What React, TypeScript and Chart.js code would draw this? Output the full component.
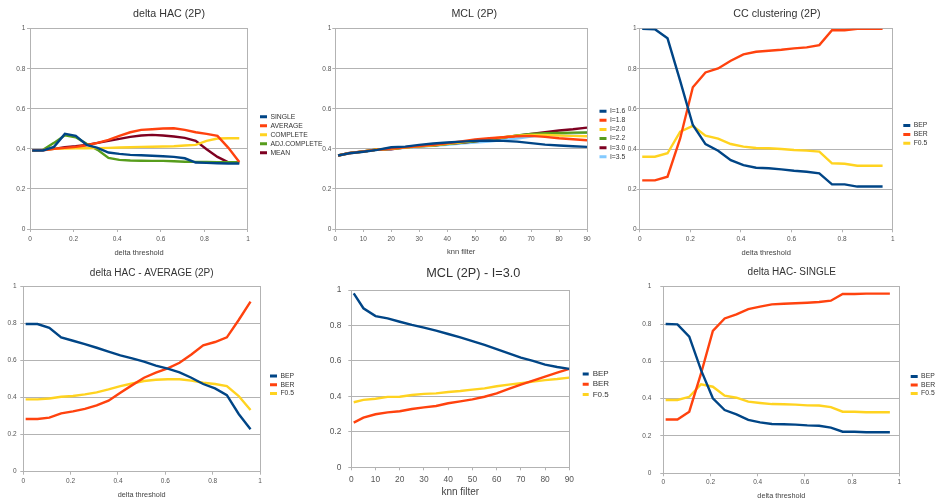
import React, { useEffect, useRef } from "react";
import { Chart, registerables } from "chart.js";

Chart.register(...registerables);

// ---------------- data ----------------
const deltaThresholds = [0.01, 0.06, 0.11, 0.16, 0.21, 0.26, 0.31, 0.36, 0.41, 0.46, 0.51, 0.56, 0.61, 0.66, 0.71, 0.76, 0.81, 0.86, 0.91, 0.96];
const knnFilters = [1, 5, 10, 15, 20, 25, 30, 35, 40, 45, 50, 55, 60, 65, 70, 75, 80, 85, 90];

// delta HAC (2P) - F0.5 per linkage
const hacSingle = [0.392, 0.392, 0.41, 0.475, 0.465, 0.42, 0.405, 0.382, 0.375, 0.37, 0.368, 0.366, 0.363, 0.36, 0.353, 0.332, 0.33, 0.328, 0.327, 0.327];
const hacAverage = [0.393, 0.393, 0.4, 0.405, 0.41, 0.418, 0.43, 0.445, 0.465, 0.483, 0.495, 0.498, 0.502, 0.503, 0.495, 0.483, 0.475, 0.465, 0.405, 0.335];
const hacComplete = [0.393, 0.395, 0.4, 0.402, 0.403, 0.403, 0.404, 0.405, 0.407, 0.408, 0.41, 0.411, 0.412, 0.413, 0.417, 0.42, 0.44, 0.452, 0.453, 0.453];
const hacAdjComplete = [0.393, 0.395, 0.43, 0.468, 0.458, 0.425, 0.395, 0.355, 0.345, 0.342, 0.341, 0.34, 0.34, 0.338, 0.336, 0.335, 0.335, 0.334, 0.334, 0.334];
const hacMean = [0.393, 0.395, 0.4, 0.408, 0.413, 0.42, 0.43, 0.44, 0.45, 0.46, 0.467, 0.47, 0.467, 0.462, 0.455, 0.44, 0.398, 0.36, 0.333, 0.332];

// MCL (2P) - F0.5 per inflation
const mclI16 = [0.367, 0.378, 0.386, 0.395, 0.408, 0.411, 0.42, 0.427, 0.432, 0.436, 0.44, 0.442, 0.44, 0.436, 0.429, 0.421, 0.417, 0.413, 0.41];
const mclI18 = [0.367, 0.378, 0.387, 0.396, 0.402, 0.408, 0.414, 0.42, 0.428, 0.437, 0.447, 0.453, 0.458, 0.463, 0.465, 0.46, 0.453, 0.448, 0.443];
const mclI20 = [0.367, 0.379, 0.387, 0.397, 0.401, 0.407, 0.413, 0.418, 0.425, 0.433, 0.441, 0.449, 0.458, 0.466, 0.47, 0.47, 0.467, 0.465, 0.463];
const mclI22 = [0.367, 0.379, 0.387, 0.397, 0.4, 0.407, 0.413, 0.417, 0.424, 0.431, 0.438, 0.446, 0.456, 0.467, 0.475, 0.478, 0.479, 0.481, 0.482];
const mclI35 = [0.367, 0.378, 0.386, 0.395, 0.399, 0.405, 0.41, 0.415, 0.42, 0.426, 0.432, 0.437, 0.444, 0.452, 0.461, 0.468, 0.474, 0.478, 0.481];

// CC clustering (2P)
const ccBEP = [1.0, 0.997, 0.952, 0.74, 0.52, 0.425, 0.392, 0.345, 0.32, 0.307, 0.304, 0.299, 0.292, 0.287, 0.279, 0.224, 0.224, 0.213, 0.213, 0.213];
const ccBER = [0.244, 0.244, 0.262, 0.453, 0.708, 0.782, 0.802, 0.84, 0.872, 0.885, 0.89, 0.895, 0.902, 0.907, 0.918, 0.992, 0.992, 1.0, 1.0, 1.0];
const ccF05 = [0.362, 0.362, 0.379, 0.487, 0.515, 0.467, 0.452, 0.425, 0.412, 0.405, 0.404, 0.4, 0.395, 0.392, 0.387, 0.329, 0.327, 0.317, 0.317, 0.317];

// delta HAC - AVERAGE (2P)
const avgBEP = [0.798, 0.798, 0.778, 0.726, 0.708, 0.69, 0.67, 0.649, 0.629, 0.613, 0.595, 0.573, 0.557, 0.537, 0.508, 0.474, 0.45, 0.414, 0.312, 0.229];
const avgBER = [0.285, 0.285, 0.292, 0.315, 0.326, 0.34, 0.358, 0.384, 0.427, 0.468, 0.508, 0.535, 0.559, 0.589, 0.634, 0.683, 0.701, 0.726, 0.82, 0.919];
const avgF05 = [0.391, 0.391, 0.396, 0.405, 0.409, 0.418, 0.429, 0.445, 0.463, 0.477, 0.49, 0.497, 0.5, 0.5, 0.492, 0.481, 0.474, 0.463, 0.409, 0.333];

// MCL (2P) - I=3.0
const mclBEP = [0.981, 0.897, 0.853, 0.84, 0.821, 0.803, 0.788, 0.771, 0.752, 0.733, 0.712, 0.69, 0.667, 0.643, 0.618, 0.6, 0.579, 0.566, 0.555];
const mclBER = [0.252, 0.28, 0.299, 0.31, 0.316, 0.329, 0.338, 0.346, 0.361, 0.372, 0.383, 0.398, 0.417, 0.442, 0.466, 0.489, 0.511, 0.534, 0.555];
const mclF05 = [0.367, 0.38, 0.387, 0.397, 0.398, 0.408, 0.414, 0.417, 0.425, 0.43, 0.438, 0.445, 0.457, 0.466, 0.474, 0.483, 0.492, 0.498, 0.506];

// delta HAC- SINGLE
const sglBEP = [0.8, 0.798, 0.732, 0.553, 0.402, 0.339, 0.316, 0.286, 0.273, 0.264, 0.263, 0.261, 0.257, 0.255, 0.245, 0.223, 0.223, 0.22, 0.22, 0.22];
const sglBER = [0.288, 0.288, 0.33, 0.535, 0.763, 0.83, 0.852, 0.88, 0.893, 0.905, 0.909, 0.911, 0.914, 0.918, 0.925, 0.961, 0.961, 0.963, 0.963, 0.963];
const sglF05 = [0.393, 0.393, 0.41, 0.477, 0.464, 0.416, 0.405, 0.384, 0.377, 0.371, 0.37, 0.368, 0.364, 0.363, 0.355, 0.33, 0.33, 0.327, 0.327, 0.327];

// ---------------- styles ----------------
const FONT = '"Liberation Sans", Arial, sans-serif';
const BLUE = "#004586";
const ORANGE = "#ff420e";
const YELLOW = "#ffd320";
const GREEN = "#579d1c";
const MAROON = "#7e0021";
const LIGHTBLUE = "#83caff";
const GRID = "#b3b3b3";
const TICK = "#555555";
const TEXT = "#333333";

type Series = { label: string; color: string; data: number[] };
type Panel = {
  title: string; titleSize: number; titleX: number; titleY: number; top: number;
  plot: { l: number; t: number; r: number; b: number };
  xTitle: string; xTitleSize: number; xTitleY: number;
  xs: number[]; xMax: number; xStep: number;
  tickSize: number; yTickPad: number; xTickPad: number;
  legendX: number; legendY: number; legendFont: number; legendSpacing: number; boxW: number;
  series: Series[];
};

const PANELS: Panel[] = [
  {
    title: "delta HAC (2P)", titleSize: 10.7, titleX: 169, titleY: 13.7, top: 0,
    plot: { l: 30, t: 28.7, r: 248, b: 229 },
    xTitle: "delta threshold", xTitleSize: 7.5, xTitleY: 253,
    xs: deltaThresholds, xMax: 1, xStep: 0.2,
    tickSize: 6.5, yTickPad: 1.7, xTickPad: 3.4,
    legendX: 260, legendY: 134.7, legendFont: 6.8, legendSpacing: 9, boxW: 7,
    series: [
      { label: "SINGLE", color: BLUE, data: hacSingle },
      { label: "AVERAGE", color: ORANGE, data: hacAverage },
      { label: "COMPLETE", color: YELLOW, data: hacComplete },
      { label: "ADJ.COMPLETE", color: GREEN, data: hacAdjComplete },
      { label: "MEAN", color: MAROON, data: hacMean },
    ],
  },
  {
    title: "MCL (2P)", titleSize: 10.7, titleX: 474.3, titleY: 14, top: 0,
    plot: { l: 335.3, t: 28.7, r: 587, b: 229 },
    xTitle: "knn filter", xTitleSize: 7.5, xTitleY: 252,
    xs: knnFilters, xMax: 90, xStep: 10,
    tickSize: 6.5, yTickPad: 1, xTickPad: 3.4,
    legendX: 599.5, legendY: 134, legendFont: 6.8, legendSpacing: 9.1, boxW: 7,
    series: [
      { label: "I=1.6", color: BLUE, data: mclI16 },
      { label: "I=1.8", color: ORANGE, data: mclI18 },
      { label: "I=2.0", color: YELLOW, data: mclI20 },
      { label: "I=2.2", color: GREEN, data: mclI22 },
      { label: "I=3.0", color: MAROON, data: mclF05 },
      { label: "I=3.5", color: LIGHTBLUE, data: mclI35 },
    ],
  },
  {
    title: "CC clustering (2P)", titleSize: 10.7, titleX: 777, titleY: 13.7, top: 0,
    plot: { l: 639.7, t: 28.7, r: 892.7, b: 229.3 },
    xTitle: "delta threshold", xTitleSize: 7.5, xTitleY: 253,
    xs: deltaThresholds, xMax: 1, xStep: 0.2,
    tickSize: 6.5, yTickPad: 0, xTickPad: 3.4,
    legendX: 903.3, legendY: 134.4, legendFont: 6.8, legendSpacing: 8.8, boxW: 7,
    series: [
      { label: "BEP", color: BLUE, data: ccBEP },
      { label: "BER", color: ORANGE, data: ccBER },
      { label: "F0.5", color: YELLOW, data: ccF05 },
    ],
  },
  {
    title: "delta HAC - AVERAGE (2P)", titleSize: 10, titleX: 151.7, titleY: 273.3, top: 255,
    plot: { l: 23.3, t: 286.7, r: 260, b: 471.7 },
    xTitle: "delta threshold", xTitleSize: 7.3, xTitleY: 495,
    xs: deltaThresholds, xMax: 1, xStep: 0.2,
    tickSize: 6.5, yTickPad: 3.7, xTickPad: 2.4,
    legendX: 270, legendY: 384.7, legendFont: 6.8, legendSpacing: 8.7, boxW: 7,
    series: [
      { label: "BEP", color: BLUE, data: avgBEP },
      { label: "BER", color: ORANGE, data: avgBER },
      { label: "F0.5", color: YELLOW, data: avgF05 },
    ],
  },
  {
    title: "MCL (2P) - I=3.0", titleSize: 12.7, titleX: 473.3, titleY: 273.3, top: 255,
    plot: { l: 351.3, t: 290, r: 569.3, b: 467.3 },
    xTitle: "knn filter", xTitleSize: 10, xTitleY: 492.7,
    xs: knnFilters, xMax: 90, xStep: 10,
    tickSize: 8.4, yTickPad: 7, xTickPad: 4,
    legendX: 582.7, legendY: 384.2, legendFont: 8, legendSpacing: 10.2, boxW: 6,
    series: [
      { label: "BEP", color: BLUE, data: mclBEP },
      { label: "BER", color: ORANGE, data: mclBER },
      { label: "F0.5", color: YELLOW, data: mclF05 },
    ],
  },
  {
    title: "delta HAC- SINGLE", titleSize: 10, titleX: 791.8, titleY: 272.7, top: 255,
    plot: { l: 663.3, t: 286.7, r: 899.3, b: 473.3 },
    xTitle: "delta threshold", xTitleSize: 7.3, xTitleY: 495.7,
    xs: deltaThresholds, xMax: 1, xStep: 0.2,
    tickSize: 6.5, yTickPad: 9, xTickPad: 2.1,
    legendX: 910.7, legendY: 385, legendFont: 6.8, legendSpacing: 8.5, boxW: 7,
    series: [
      { label: "BEP", color: BLUE, data: sglBEP },
      { label: "BER", color: ORANGE, data: sglBER },
      { label: "F0.5", color: YELLOW, data: sglF05 },
    ],
  },
];

const formatTick = (v: number | string) => String(Number(Number(v).toFixed(2)));

function buildConfig(p: Panel, canvas: HTMLCanvasElement): any {
  const meas = document.createElement("canvas").getContext("2d") as CanvasRenderingContext2D;
  meas.font = `${p.legendFont}px ${FONT}`;
  const maxText = Math.max(...p.series.map((s) => meas.measureText(s.label).width));
  const labelPad = p.legendSpacing - p.legendFont;
  const legendW = labelPad + p.boxW + p.legendFont / 2 + maxText + 10;
  const rightAxisW = p.legendX - labelPad - p.plot.r;
  const boxRight = p.plot.r + rightAxisW + legendW;
  const boxLeft = 2 * p.titleX - boxRight;
  const left = Math.floor(boxLeft);
  const right = Math.ceil(boxRight);
  const bottomExact = 2 * p.legendY - p.top;
  const bottom = Math.ceil(bottomExact);
  const w = right - left;
  const h = bottom - p.top;
  canvas.width = w;
  canvas.height = h;
  Object.assign(canvas.style, {
    position: "absolute", left: `${left}px`, top: `${p.top}px`, width: `${w}px`, height: `${h}px`,
  });
  const yAxisW = p.plot.l - boxLeft;
  const xAxisH = bottomExact - p.plot.b;
  const tLH = p.titleSize * 1.2;
  const tPadTop = p.titleY - p.top - tLH / 2;
  const tPadBottom = p.plot.t - p.top - tLH - tPadTop;
  const xLH = p.xTitleSize * 1.2;
  const xPadBottom = bottomExact - p.xTitleY - xLH / 2;
  const tickFont = { family: FONT, size: p.tickSize, lineHeight: 1.2 };

  return {
    type: "line",
    data: {
      datasets: p.series.map((s) => ({
        label: s.label,
        data: p.xs.map((x, i) => ({ x, y: s.data[i] })),
        borderColor: s.color,
        backgroundColor: s.color,
        borderWidth: 2.4,
        pointRadius: 0,
        pointHoverRadius: 0,
        tension: 0,
        fill: false,
        xAxisID: "x",
        yAxisID: "y",
      })),
    },
    options: {
      responsive: false,
      maintainAspectRatio: false,
      animation: false,
      devicePixelRatio: 1,
      locale: "en-US",
      events: [],
      layout: {
        padding: { left: boxLeft - left, right: right - boxRight, top: 0, bottom: bottom - bottomExact },
      },
      plugins: {
        title: {
          display: true,
          text: p.title,
          color: TEXT,
          font: { family: FONT, size: p.titleSize, weight: "normal", lineHeight: 1.2 },
          padding: { top: tPadTop, bottom: tPadBottom },
        },
        legend: {
          display: true,
          position: "right",
          align: "center",
          maxWidth: 1000,
          labels: {
            boxWidth: p.boxW,
            boxHeight: 3,
            padding: labelPad,
            color: TEXT,
            font: { family: FONT, size: p.legendFont },
            generateLabels: (chart: any) =>
              (Chart.defaults as any).plugins.legend.labels
                .generateLabels(chart)
                .map((l: any) => ({ ...l, lineWidth: 0 })),
          },
        },
        tooltip: { enabled: false },
      },
      scales: {
        x: {
          type: "linear",
          position: "bottom",
          min: 0,
          max: p.xMax,
          ticks: {
            stepSize: p.xStep, color: TICK, font: tickFont, padding: p.xTickPad,
            maxRotation: 0, autoSkip: false, callback: formatTick,
          },
          grid: { drawOnChartArea: false, drawTicks: true, tickLength: 3, color: GRID, lineWidth: 1 },
          border: { display: true, color: GRID, width: 1 },
          title: {
            display: true,
            text: p.xTitle,
            color: "#444444",
            font: { family: FONT, size: p.xTitleSize, lineHeight: 1.2 },
            padding: { top: 0, bottom: xPadBottom },
          },
          afterFit: (s: any) => {
            s.height = xAxisH;
          },
        },
        y: {
          type: "linear",
          position: "left",
          min: 0,
          max: 1,
          ticks: { stepSize: 0.2, color: TICK, font: tickFont, padding: p.yTickPad, callback: formatTick },
          grid: { drawTicks: true, tickLength: 3, color: GRID, lineWidth: 1 },
          border: { display: true, color: GRID, width: 1 },
          afterFit: (s: any) => {
            s.width = yAxisW;
          },
        },
        yr: {
          type: "linear",
          position: "right",
          min: 0,
          max: 1,
          ticks: { display: false },
          grid: { drawOnChartArea: false, drawTicks: false, color: GRID },
          border: { display: true, color: GRID, width: 1 },
          afterFit: (s: any) => {
            s.width = rightAxisW;
          },
        },
      },
    },
  };
}

function PanelChart({ panel }: { panel: Panel }) {
  const ref = useRef<HTMLCanvasElement | null>(null);
  useEffect(() => {
    const canvas = ref.current;
    if (!canvas) return;
    const chart = new Chart(canvas, buildConfig(panel, canvas));
    return () => chart.destroy();
  }, [panel]);
  return <canvas ref={ref} style={{ position: "absolute" }} />;
}

export default function App() {
  return (
    <div
      style={{
        position: "absolute",
        left: 0,
        top: 0,
        width: 936,
        height: 499,
        overflow: "hidden",
        background: "#ffffff",
      }}
    >
      {PANELS.map((p, i) => (
        <PanelChart key={i} panel={p} />
      ))}
    </div>
  );
}
